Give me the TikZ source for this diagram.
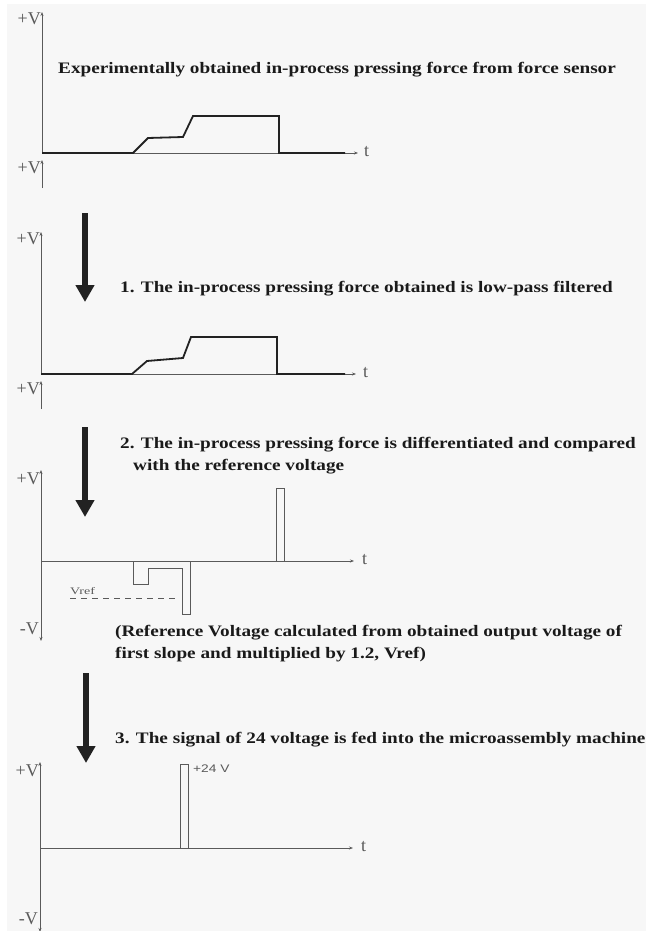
\documentclass[tikz,border=0pt]{standalone}
\usepackage{fontspec}
\setmainfont{Liberation Serif}
\newfontfamily\capfont{Liberation Serif}[FakeStretch=1.2]
\newfontfamily\sansf{Liberation Sans}
\usetikzlibrary{arrows.meta}
\definecolor{bgc}{HTML}{F7F7F7}
\definecolor{axisc}{HTML}{5A5A5A}
\definecolor{sigc}{HTML}{222222}
\definecolor{txtc}{HTML}{1A1A1A}
\begin{document}
\begin{tikzpicture}[x=1pt,y=-1pt,
  axis/.style={draw=axisc, line width=0.8pt, -{Stealth[length=4pt,width=3pt]}},
  axis2/.style={draw=axisc, line width=0.8pt, {Stealth[length=4pt,width=3pt]}-{Stealth[length=4pt,width=3pt]}},
  sigthick/.style={draw=sigc, line width=1.8pt, line join=miter},
  sigthin/.style={draw=axisc, line width=0.8pt},
  bigarrow/.style={draw=sigc, line width=6.5pt, -{Triangle[width=18pt,length=17pt]}},
  capt/.style={font=\capfont\bfseries\fontsize{16}{19}\selectfont, text=txtc, inner sep=0pt, anchor=base west},
  vlab/.style={font=\fontsize{18}{21}\selectfont, text=axisc, inner sep=0pt},
  tlab/.style={font=\fontsize{18}{21}\selectfont, text=axisc, inner sep=0pt, anchor=west}]
\useasboundingbox (0,0) rectangle (646,931);
\fill[white] (0,0) rectangle (646,931);
\fill[bgc] (7,4) rectangle (646,931);

% ---------- panel 1 ----------
\coordinate (o1) at (42,153);
\coordinate (y1) at (42,12);
\coordinate (x1) at (358,153);
\draw[axis] (o1) -- (y1);
\draw[axis] (o1) -- (x1);
\node[vlab, anchor=east] (v1) at (41,19) {+V};
\node[tlab] (t1) at (364,152) {t};
\draw[sigthick] (o1) -- (133,153) -- (148,138) -- (183,137) -- (193,116) -- (279,116) -- (279,153) -- (345,153);
\node[capt] (c0) at (58,74) {Experimentally obtained in-process pressing force from force sensor};

% stub
\coordinate (s1a) at (42,188);
\coordinate (s1b) at (42,160);
\draw[axis] (s1a) -- (s1b);
\node[vlab, anchor=east] (v1b) at (41,168) {+V};

% arrow 1
\coordinate (a1s) at (85,213);
\coordinate (a1e) at (85,302);
\draw[bigarrow] (a1s) -- (a1e);
\node[capt] (c1) at (120,292) {1. The in-process pressing force obtained is low-pass filtered};

% ---------- panel 2 ----------
\coordinate (o2) at (41,374);
\coordinate (y2) at (41,232);
\coordinate (x2) at (356,374);
\draw[axis] (o2) -- (y2);
\draw[axis] (o2) -- (x2);
\node[vlab, anchor=east] (v2) at (40,239) {+V};
\node[tlab] (t2) at (363,373) {t};
\draw[sigthick] (o2) -- (132,374) -- (147,361) -- (183,358) -- (191,337) -- (277,337) -- (277,374) -- (345,374);

% stub
\coordinate (s2a) at (41,409);
\coordinate (s2b) at (41,381);
\draw[axis] (s2a) -- (s2b);
\node[vlab, anchor=east] (v2b) at (40,389) {+V};

% arrow 2
\coordinate (a2s) at (85,427);
\coordinate (a2e) at (85,517);
\draw[bigarrow] (a2s) -- (a2e);
\node[capt] (c2) at (120,448) {2. The in-process pressing force is differentiated and compared};
\node[capt] (c2b) at (133,470) {with the reference voltage};

% ---------- panel 3 ----------
\coordinate (o3) at (41,561);
\coordinate (y3t) at (41,470);
\coordinate (y3b) at (41,641);
\coordinate (x3) at (354,561);
\draw[axis2] (y3b) -- (y3t);
\draw[axis] (o3) -- (x3);
\node[vlab, anchor=east] (v3) at (40,479) {+V};
\node[vlab, anchor=east] (v3m) at (39,629) {-V};
\node[tlab] (t3) at (362,560) {t};
\draw[sigthin] (133,561) -- (133,584) -- (148,584) -- (148,568) -- (182,568) -- (182,614) -- (190,614) -- (190,561);
\draw[sigthin] (276,561) -- (276,488) -- (284,488) -- (284,561);
\coordinate (vr1) at (70,598);
\coordinate (vr2) at (176,598);
\draw[axisc, line width=0.8pt, dash pattern=on 6pt off 5pt] (vr1) -- (vr2);
\node[font=\fontsize{10}{12}\selectfont, text=axisc, inner sep=0pt, anchor=base west] (vref) at (70,594) {\scalebox{1.4}[1]{Vref}};
\node[capt] (c3) at (115,636) {(Reference Voltage calculated from obtained output voltage of};
\node[capt] (c3b) at (115,658) {first slope and multiplied by 1.2, Vref)};

% arrow 3
\coordinate (a3s) at (86,673);
\coordinate (a3e) at (86,763);
\draw[bigarrow] (a3s) -- (a3e);
\node[capt] (c4) at (115,743) {3. The signal of 24 voltage is fed into the microassembly machine};

% ---------- panel 4 ----------
\coordinate (o4) at (40,848);
\coordinate (y4t) at (40,762);
\coordinate (y4b) at (40,932);
\coordinate (x4) at (353,848);
\draw[axis2] (y4b) -- (y4t);
\draw[axis] (o4) -- (x4);
\node[vlab, anchor=east] (v4) at (39,771) {+V};
\node[vlab, anchor=east] (v4m) at (38,919) {-V};
\node[tlab] (t4) at (361,847) {t};
\draw[sigthin] (180,848) -- (180,764) -- (188,764) -- (188,848);
\node[font=\sansf\fontsize{11}{13}\selectfont, text=axisc, inner sep=0pt, anchor=west] (p24) at (193,769) {\scalebox{1.25}[1]{+24 V}};
\end{tikzpicture}
\end{document}
